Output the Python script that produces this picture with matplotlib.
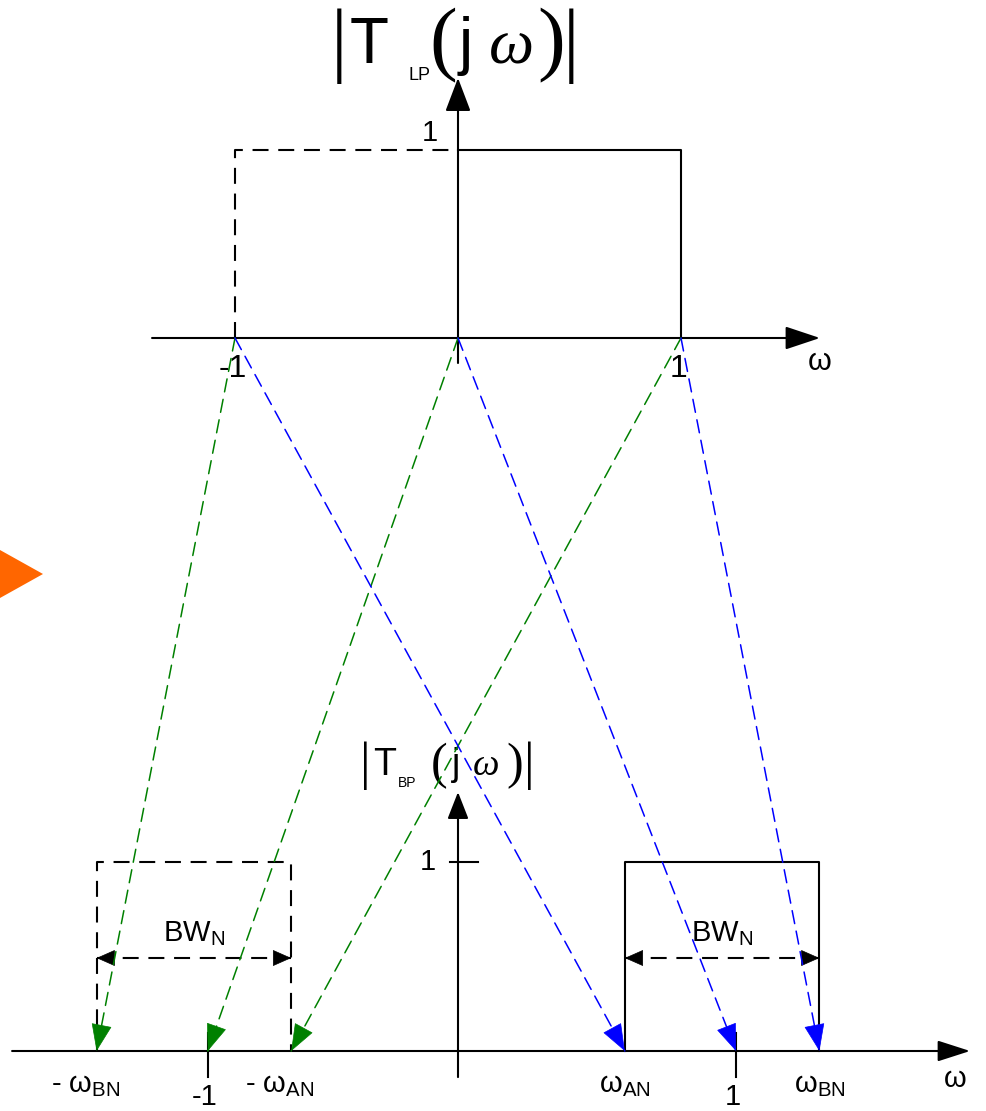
import matplotlib
matplotlib.use("Agg")
import numpy as np
import matplotlib.pyplot as plt
from matplotlib.patches import ConnectionPatch, Polygon
from matplotlib.transforms import Affine2D

W, H = 986, 1111

plt.rcParams["font.family"] = ["Liberation Sans", "DejaVu Sans"]
plt.rcParams["mathtext.fontset"] = "custom"
plt.rcParams["mathtext.rm"] = "Liberation Sans"
plt.rcParams["lines.scale_dashes"] = False

# --- data -------------------------------------------------------------------
# lowpass prototype: passband edges and gain
lp_edges = [-1.0, 0.0, 1.0]
lp_gain = 1.0
lp_ticks = [-1.0, 1.0]
lp_tick_labels = ["-1", "1"]

# bandpass result: band edges, unit-frequency ticks, gain
w_an = 0.6
w_bn = 1.3
bp_gain = 1.0
bp_ticks = [-0.9, 1.0]
bp_tick_labels = ["-1", "1"]
bp_edge_pos = [-w_bn, -w_an, w_an, w_bn]
bp_edge_labels = [r"- ω$_{\mathregular{BN}}$", r"- ω$_{\mathregular{AN}}$",
                  r"ω$_{\mathregular{AN}}$", r"ω$_{\mathregular{BN}}$"]

# where each LP frequency lands in the BP plot
lp_src = [-1.0, 0.0, 1.0]
green_dst = [-w_bn, -0.9, -w_an]   # negative-frequency branch
blue_dst = [w_an, 1.0, w_bn]       # positive-frequency branch

GREEN = "#008000"
BLUE = "#0000FF"
ORANGE = "#FF6600"
PX2PT = 0.72

fig = plt.figure(figsize=(W / 100, H / 100), dpi=100)
pxT = Affine2D().scale(1 / W, -1 / H).translate(0, 1) + fig.transFigure

ax_top = fig.add_axes([0, 1 - 500 / H, 1, 500 / H])
ax_top.set_xlim(-458 / 223, 528 / 223)
ax_top.set_ylim(-162 / 188, 338 / 188)
ax_bot = fig.add_axes([0, 0, 1, 611 / H])
ax_bot.set_xlim(-458 / 278, 528 / 278)
ax_bot.set_ylim(-60 / 189, 551 / 189)
for ax in (ax_top, ax_bot):
    ax.set_axis_off()


def arrow(ax, start, tip, hl, hw, lw=1.5, color="black", z=3):
    style = f"-|>,head_length={hl * PX2PT},head_width={hw * PX2PT}"
    ax.annotate("", xy=tip, xytext=start,
                arrowprops=dict(arrowstyle=style, mutation_scale=1, lw=lw,
                                color=color, shrinkA=0, shrinkB=0),
                zorder=z)


def head_at(ax, tip, direction, hl, hw, color):
    # solid head only, pointing along direction (display coords)
    d = np.asarray(direction, float)
    d = d / np.hypot(*d)
    style = f"-|>,head_length={hl * PX2PT},head_width={hw * PX2PT}"
    ax.annotate("", xy=tip, xytext=(-d[0] * hl, -d[1] * hl),
                textcoords="offset pixels",
                arrowprops=dict(arrowstyle=style, mutation_scale=1, lw=0.5,
                                color=color, shrinkA=0, shrinkB=0),
                zorder=6)


blk = dict(color="black", lw=1.5)
dash_k = (0, (11.5, 7))
dash_c = (0, (9.5, 5.5))

# --- lowpass prototype ---------------------------------------------------------
arrow(ax_top, (-1.372, 0), (1.623, 0), 30, 10)
arrow(ax_top, (0, -0.133), (0, 1.383), 29, 11)
ax_top.plot([lp_edges[1], lp_edges[2], lp_edges[2]], [lp_gain, lp_gain, 0], **blk)
ax_top.plot([lp_edges[0], lp_edges[0], lp_edges[1]], [0, lp_gain, lp_gain],
            ls=dash_k, **blk)
for x, lab in zip(lp_ticks, lp_tick_labels):
    ax_top.text(x - 0.01, -0.165, lab, fontsize=23, ha="center", va="center")
ax_top.text(-0.125, 1.09, "1", fontsize=21, ha="center", va="center")
ax_top.text(1.623, -0.125, "ω", fontsize=22, ha="center", va="center")

# --- bandpass result -----------------------------------------------------------
arrow(ax_bot, (-1.604, 0), (1.842, 0), 28, 9)
arrow(ax_bot, (0, -0.138), (0, 1.37), 23, 9)
ax_bot.plot([-0.03, 0.072], [bp_gain, bp_gain], **blk)
for x in bp_ticks:
    ax_bot.plot([x, x], [0.095, -0.138], **blk)
ax_bot.plot([-w_bn, -w_bn, -w_an, -w_an], [0, bp_gain, bp_gain, 0], ls=dash_k, **blk)
ax_bot.plot([w_an, w_an, w_bn, w_bn], [0, bp_gain, bp_gain, 0], **blk)
ax_bot.text(-0.11, 1.0, "1", fontsize=21, ha="center", va="center")

y_bw = 0.492
for a, b in ((-w_bn, -w_an), (w_an, w_bn)):
    ax_bot.plot([a, b], [y_bw, y_bw], ls=dash_k, **blk)
    head_at(ax_bot, (a, y_bw), (-1, 0), 17, 7.5, "black")
    head_at(ax_bot, (b, y_bw), (1, 0), 17, 7.5, "black")
    ax_bot.text((a + b) / 2, 0.62, r"BW$_{\mathregular{N}}$", fontsize=21,
                ha="center", va="center")

for x, lab in zip(bp_edge_pos, bp_edge_labels):
    dx = -0.04 if x < 0 else 0.0
    ax_bot.text(x + dx, -0.217, lab, fontsize=21, ha="center", va="baseline")
for x, lab in zip(bp_ticks, bp_tick_labels):
    ax_bot.text(x - 0.01, -0.285, lab, fontsize=21, ha="center", va="baseline")
ax_bot.text(1.79, -0.19, "ω", fontsize=21, ha="center", va="baseline")

# --- frequency mapping arrows ------------------------------------------------------
for dst_list, col in ((green_dst, GREEN), (blue_dst, BLUE)):
    for src, dst in zip(lp_src, dst_list):
        con = ConnectionPatch(xyA=(src, 0), coordsA=ax_top.transData,
                              xyB=(dst, 0), coordsB=ax_bot.transData,
                              color=col, lw=1.1, ls=dash_c, zorder=5)
        fig.add_artist(con)
        p_top = ax_top.transData.transform((src, 0))
        p_bot = ax_bot.transData.transform((dst, 0))
        head_at(ax_bot, (dst, 0), p_bot - p_top, 25, 9.5, col)

# --- titles ------------------------------------------------------------------------
serif = ["Liberation Serif", "DejaVu Serif"]


def title(sub, base, sub_base, fs, sub_fs, pfs, bar_fs, pmid, parts_x):
    xb1, xt, xsub, xp1, xj, xw, xp2, xb2 = parts_x
    for xb in (xb1, xb2):
        fig.text(xb, pmid, "|", fontsize=bar_fs, family=serif, ha="center",
                 va="center", transform=pxT)
    fig.text(xt, base, "T", fontsize=fs, ha="left", va="baseline", transform=pxT)
    fig.text(xsub, sub_base, sub, fontsize=sub_fs, ha="left", va="baseline",
             transform=pxT)
    fig.text(xp1, pmid, "(", fontsize=pfs, family=serif, ha="center", va="center",
             transform=pxT)
    fig.text(xj, base, "j", fontsize=fs, ha="center", va="baseline", transform=pxT)
    fig.text(xw, base, "ω", fontsize=fs, family=serif, style="italic", ha="center",
             va="baseline", transform=pxT)
    fig.text(xp2, pmid, ")", fontsize=pfs, family=serif, ha="center", va="center",
             transform=pxT)


title("LP", 63, 80, 46, 13, 60, 60, 46,
      (339, 350, 409, 443, 466, 511, 551, 571))
title("BP", 775, 787, 27, 10, 36, 38, 766,
      (365, 373, 398, 439, 456, 486, 515, 529))

# orange marker at the left edge
fig.add_artist(Polygon([(0, 550), (43, 574), (0, 598)], closed=True,
                       facecolor=ORANGE, edgecolor="none", transform=pxT))

fig.savefig("out.png", dpi=100)
